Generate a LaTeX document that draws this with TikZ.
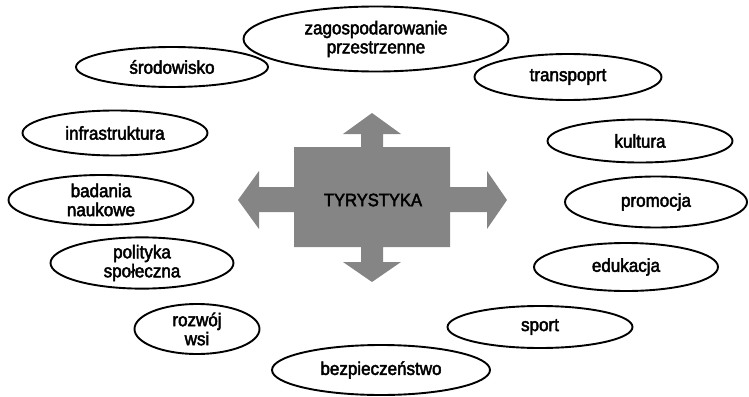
\documentclass[tikz,border=0pt]{standalone}
\usepackage{fontspec}
\setmainfont[FakeStretch=0.92,FakeBold=2.5]{Liberation Sans}
\usetikzlibrary{shapes.geometric}
\definecolor{crossgray}{gray}{0.52}
\tikzset{
    pole/.style={ellipse, draw=black, line width=1.9pt, inner sep=0pt, align=center,
        font=\fontsize{18.5}{19}\selectfont},
    cross/.style={fill=crossgray},
}
\newcommand\Pole[5]{%
    \node[pole, minimum width=#3pt, minimum height=#4pt] (#1) at (#2) {#5};
}

\begin{document}
\begin{tikzpicture}[x=1pt,y=-1pt]
    \useasboundingbox (0,0) rectangle (749,396);
    % centre
    \fill[cross] (294,147) -- (361,147) -- (361,134) -- (343,134) -- (372,113) -- (401,134)
        -- (383,134) -- (383,147) -- (450,147) -- (450,187) -- (487,187) -- (487,171)
        -- (507,200) -- (487,229) -- (487,212) -- (450,212) -- (450,247) -- (383,247)
        -- (383,262) -- (401,262) -- (372,282) -- (343,262) -- (361,262) -- (361,247)
        -- (294,247) -- (294,212) -- (259,212) -- (259,229) -- (238,200) -- (259,171)
        -- (259,187) -- (294,187) -- cycle;
    \node[font=\fontsize{18}{19}\selectfont] (tyrystyka) at (373,200) {TYRYSTYKA};
    % left
    \Pole{srodowisko}{172,67}{192}{40}{środowisko}
    \Pole{infrastruktura}{115,133}{185}{45}{infrastruktura}
    \Pole{badania}{101,200}{185}{50}{badania\\naukowe}
    \Pole{polityka}{142,263}{183}{50}{polityka\\społeczna}
    \Pole{rozwoj}{197,329}{125}{50}{rozwój\\wsi}
    % top and bottom
    \Pole{zagospodarowanie}{376,39}{265}{65}{zagospodarowanie\\przestrzenne}
    \Pole{bezpieczenstwo}{381,370}{218}{50}{bezpieczeństwo}
    % right
    \Pole{transport}{568,77}{187}{46}{transpoprt}
    \Pole{kultura}{640,141}{185}{43}{kultura}
    \Pole{promocja}{656,202}{182}{51}{promocja}
    \Pole{edukacja}{626,267}{184}{48}{edukacja}
    \Pole{sport}{540,327}{185}{42}{sport}
\end{tikzpicture}
\end{document}
